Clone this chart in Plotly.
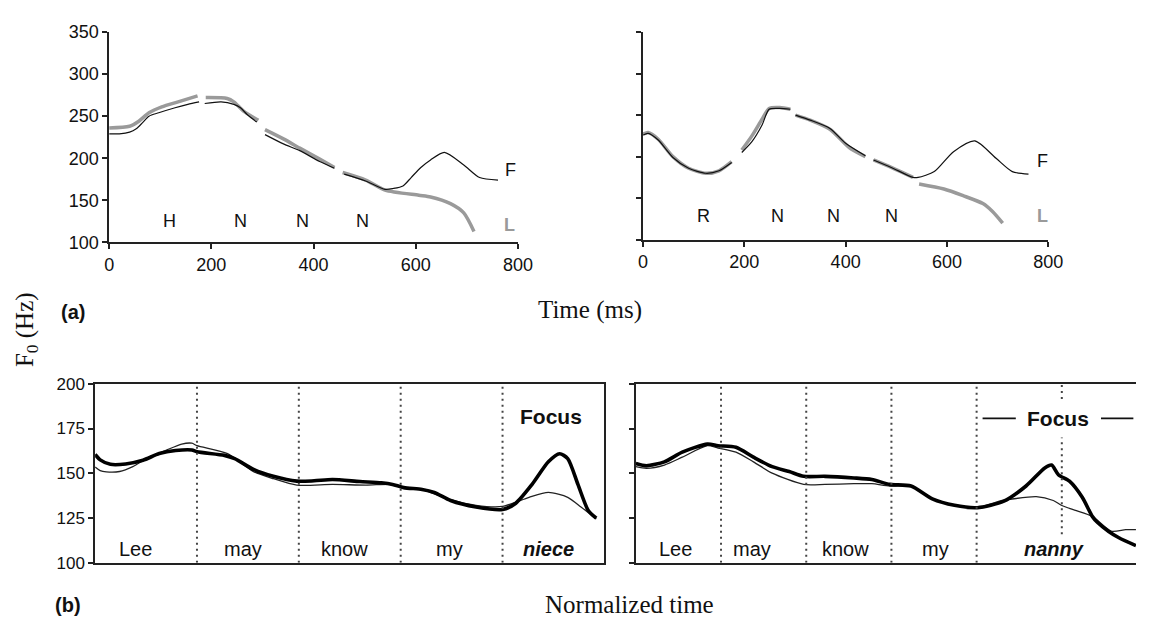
import plotly.graph_objects as go

# ---------------- (a) F0 contours in ms, None marks a voicing gap ----------------
# Left panel: H N N N pattern
t_a1_F = [0, 20, 40, 53, 65, 78, 97, 129, 154, 176, None,
          187, 219, 244, 257, 270, 289, None,
          305, 341, 373, 412, 441, None,
          460, 502, 540, 556, 575, 591, 610, 629, 656, 694, 725, 761]
f_a1_F = [229, 229, 231, 235, 242, 250, 254, 260, 264, 267, None,
          265, 267, 264, 260, 252, 243, None,
          228, 217, 209, 196, 188, None,
          181, 173, 163, 164, 167, 177, 189, 198, 207, 192, 177, 174]
t_a1_L = [0, 40, 58, 78, 103, 135, 173, None,
          189, 231, 244, 263, 292, None,
          305, 341, 373, 412, 441, None,
          457, 502, 540, 606, 629, 668, 694, 714]
f_a1_L = [236, 238, 244, 254, 261, 267, 274, None,
          272, 271, 267, 256, 245, None,
          234, 223, 212, 199, 189, None,
          183, 174, 162, 156, 154, 146, 135, 113]

# Right panel: R N N N pattern
t_a2_F = [0, 10, 30, 59, 90, 124, 150, 175, None,
          195, 215, 235, 249, 270, 291, None,
          301, 330, 369, 400, 439, None,
          455, 490, 533, 543, 575, 613, 655, 697, 729, 761]
f_a2_F = [226, 228, 220, 199, 186, 180, 183, 193, None,
          205, 218, 238, 257, 258, 257, None,
          250, 244, 234, 216, 201, None,
          196, 187, 175, 175, 182, 206, 219, 198, 182, 179]
t_a2_L = [0, 10, 30, 59, 90, 124, 150, 175, None,
          195, 215, 235, 249, 270, 291, None,
          301, 330, 369, 407, 439, None,
          455, 490, 533, None,
          545, 594, 632, 671, 690, 710]
f_a2_L = [227, 229, 221, 200, 186, 180, 183, 194, None,
          208, 225, 245, 258, 259, 257, None,
          250, 244, 233, 211, 200, None,
          196, 187, 175, None,
          167, 161, 153, 143.5, 134, 120]

a1_letters = ["H", "N", "N", "N"]
a1_letter_t = [119, 258, 379, 496]
a2_letters = ["R", "N", "N", "N"]
a2_letter_t = [119, 265, 376, 490]

# ---------------- (b) normalized-time contours ----------------
x_b1_thick = [0, 0.05, 0.15, 0.3, 0.47, 0.63, 0.79, 0.95, 1.0, 1.27, 1.37, 1.56, 1.75,
              1.98, 2.15, 2.33, 2.6, 2.81, 2.92, 3.03, 3.21, 3.33, 3.49, 3.74, 4.0,
              4.13, 4.29, 4.45, 4.56, 4.64, 4.74, 4.84, 4.92]
f_b1_thick = [160.5, 157.5, 155, 155.2, 157.3, 161, 162.7, 163, 162, 160, 158.2, 152, 148.3,
              145.6, 145.8, 146.5, 145.4, 144.7, 143.8, 142, 141, 139.3, 134.8, 131.2, 129.8,
              133.3, 143.8, 156.4, 160.9, 158.2, 143.8, 129.4, 124.9]
x_b1_thin = [0, 0.05, 0.11, 0.24, 0.37, 0.53, 0.69, 0.85, 0.95, 1.0, 1.3, 1.56, 1.75,
             1.98, 2.33, 2.66, 2.92, 3.03, 3.2, 3.49, 3.74, 4.0, 4.26, 4.45, 4.64, 4.77, 4.92]
f_b1_thin = [153.5, 151.5, 150.8, 151, 153.7, 159, 162.7, 166.3, 166.8, 165.4, 161, 150.8, 147,
             143.4, 143.8, 143.4, 143.8, 142, 141, 135.3, 132.1, 131.5, 136.6, 139.3, 136.6, 131.2, 124.5]

x_b2_thick = [0, 0.125, 0.335, 0.545, 0.84, 0.965, 1.175, 1.38, 1.6, 1.8, 1.97, 2.22, 2.56,
              2.77, 2.98, 3.23, 3.48, 3.74, 4.01, 4.32, 4.58, 4.8, 4.88, 4.96, 5.09, 5.24,
              5.36, 5.42, 5.55, 5.67, 5.87]
f_b2_thick = [155.5, 154.2, 156.4, 161.8, 166.3, 165.4, 164.5, 159, 153.7, 151, 148.3, 148.3, 147.4,
              146.5, 143.8, 142.9, 135.7, 132.1, 130.8, 134.4, 142.9, 153, 154.6, 149.2, 145.6, 136.6,
              125.8, 122.5, 117.5, 114, 109.6]
x_b2_thin = [0, 0.125, 0.335, 0.545, 0.84, 0.965, 1.175, 1.38, 1.6, 1.97, 2.22, 2.56, 2.77,
             2.98, 3.23, 3.48, 3.74, 4.01, 4.3, 4.4, 4.7, 4.9, 5.0, 5.15, 5.36, 5.58, 5.75, 5.87]
f_b2_thin = [153.7, 152.8, 154.6, 159, 165.4, 164.1, 161.8, 156.4, 150.1, 143.8, 143.8, 144.2, 144.2,
             142.9, 142.9, 135.9, 132.3, 131, 134.8, 135.5, 137, 134.8, 132, 129.4, 125.8, 117.7, 118.5, 118.5]

b1_words = ["Lee", "may", "know", "my", "<b><i>niece</i></b>"]
b1_word_x = [0.4, 1.45, 2.45, 3.48, 4.45]
b2_words = ["Lee", "may", "know", "my", "<b><i>nanny</i></b>"]
b2_word_x = [0.47, 1.36, 2.46, 3.52, 4.91]
word_bounds = [1, 2, 3, 4]

SANS = "Liberation Sans"
SERIF = "Liberation Serif"
GRAY = "#9a9a9a"
INK = "#111111"

fig = go.Figure()

def contour(x, y, xa, ya, color, width):
    fig.add_trace(go.Scatter(x=x, y=y, xaxis=xa, yaxis=ya, mode="lines",
                             line=dict(color=color, width=width, shape="spline", smoothing=0.7),
                             connectgaps=False, showlegend=False, hoverinfo="skip"))

contour(t_a1_L, f_a1_L, "x", "y", GRAY, 3.5)
contour(t_a1_F, f_a1_F, "x", "y", INK, 1.2)
contour(t_a2_L, f_a2_L, "x2", "y2", GRAY, 3.5)
contour(t_a2_F, f_a2_F, "x2", "y2", INK, 1.2)
contour(x_b1_thin, f_b1_thin, "x3", "y3", "#222222", 1.3)
contour(x_b1_thick, f_b1_thick, "x3", "y3", "#000000", 3.6)
contour(x_b2_thin, f_b2_thin, "x4", "y4", "#222222", 1.3)
contour(x_b2_thick, f_b2_thick, "x4", "y4", "#000000", 3.6)

W, H = 1151, 629

def px(x):
    return x / W

def py(y):
    return 1 - y / H

tick_font = dict(family=SANS, size=18, color=INK)
axis_common = dict(showgrid=False, zeroline=False, showline=True, linecolor="#222222",
                   linewidth=1.5, ticks="outside", ticklen=5, tickwidth=1.5, tickcolor="#222222")

fig.update_layout(
    width=W, height=H, margin=dict(l=0, r=0, t=0, b=0),
    paper_bgcolor="white", plot_bgcolor="white",
    xaxis=dict(domain=[px(106), px(522)], range=[0, 800], anchor="y",
               tickvals=[0, 200, 400, 600, 800], tickfont=tick_font, **axis_common),
    yaxis=dict(domain=[py(240), py(22.7)], range=[100, 350], anchor="x",
               tickvals=[100, 150, 200, 250, 300, 350], tickfont=tick_font, **axis_common),
    xaxis2=dict(domain=[px(649.3), px(1061.7)], range=[0, 800], anchor="y2",
                tickvals=[0, 200, 400, 600, 800], tickfont=tick_font, **axis_common),
    yaxis2=dict(domain=[py(237.3), py(22.7)], range=[100, 350], anchor="x2",
                tickvals=[100, 150, 200, 250, 300, 350], showticklabels=False, **axis_common),
    xaxis3=dict(domain=[px(91.7), px(610)], range=[0, 5], anchor="y3", mirror=True,
                showgrid=False, zeroline=False, showline=True, linecolor="#222222", linewidth=1.5,
                ticks="", showticklabels=False),
    yaxis3=dict(domain=[py(571), py(386)], range=[100, 200], anchor="x3", mirror=True,
                tickvals=[100, 125, 150, 175, 200],
                tickfont=dict(family=SANS, size=17, color=INK), **axis_common),
    xaxis4=dict(domain=[px(642), 1.0], range=[0, (W - 642) / 86.7], anchor="y4", mirror=True,
                showgrid=False, zeroline=False, showline=True, linecolor="#222222", linewidth=1.5,
                ticks="", showticklabels=False),
    yaxis4=dict(domain=[py(571), py(386)], range=[100, 200], anchor="x4",
                tickvals=[100, 125, 150, 175, 200], showticklabels=False, **axis_common),
)

ann = []

def label(text, x, y, xref, yref, size, color=INK, family=SANS, **kw):
    ann.append(dict(text=text, x=x, y=y, xref=xref, yref=yref, showarrow=False,
                    font=dict(family=family, size=size, color=color),
                    xanchor="center", yanchor="middle", **kw))

for s, t in zip(a1_letters, a1_letter_t):
    label(s, t, 125.5, "x", "y", 18)
for s, t in zip(a2_letters, a2_letter_t):
    label(s, t, 128, "x2", "y2", 18)
label("F", 786, 186.5, "x", "y", 18)
label("<b>L</b>", 784, 120.5, "x", "y", 18, color=GRAY)
label("F", 788, 194.8, "x2", "y2", 18)
label("<b>L</b>", 788, 128.3, "x2", "y2", 18, color=GRAY)

for s, x in zip(b1_words, b1_word_x):
    label(s, x, 107.7, "x3", "y3", 20)
for s, x in zip(b2_words, b2_word_x):
    label(s, x, 107.7, "x4", "y4", 20)
label("<b>Focus</b>", 4.48, 181.6, "x3", "y3", 21)
label("<b>Focus</b>", 4.95, 180.7, "x4", "y4", 21)

label("<b>(a)</b>", px(69), py(312), "paper", "paper", 20)
label("<b>(b)</b>", px(64), py(615), "paper", "paper", 20)
label("Time (ms)", px(595), py(310), "paper", "paper", 25, family=SERIF)
label("Normalized time", px(636), py(614), "paper", "paper", 25, family=SERIF)
label("F<sub>0</sub> (Hz)", px(22), py(330), "paper", "paper", 25, family=SERIF, textangle=-90)

fig.update_layout(annotations=ann)

# Syllable boundaries in the bottom panels
dot = dict(color="#444444", width=2, dash="2px,4px")
shapes = []
for b in word_bounds:
    shapes.append(dict(type="line", xref="x3", yref="y3", x0=b, x1=b, y0=100, y1=200, line=dot))
    shapes.append(dict(type="line", xref="x4", yref="y4", x0=b, x1=b, y0=100, y1=200, line=dot))
# Boundary between the two syllables of "nanny", broken around the label
shapes.append(dict(type="line", xref="x4", yref="y4", x0=5, x1=5, y0=191.5, y1=200, line=dot))
shapes.append(dict(type="line", xref="x4", yref="y4", x0=5, x1=5, y0=116, y1=170, line=dot))
# Bracket marks either side of the second "Focus" label
for x0, x1 in [(4.07, 4.46), (5.46, 5.84)]:
    shapes.append(dict(type="line", xref="x4", yref="y4", x0=x0, x1=x1, y0=180.7, y1=180.7,
                       line=dict(color="#111111", width=1.8)))
fig.update_layout(shapes=shapes)

fig.write_html("out.html")
